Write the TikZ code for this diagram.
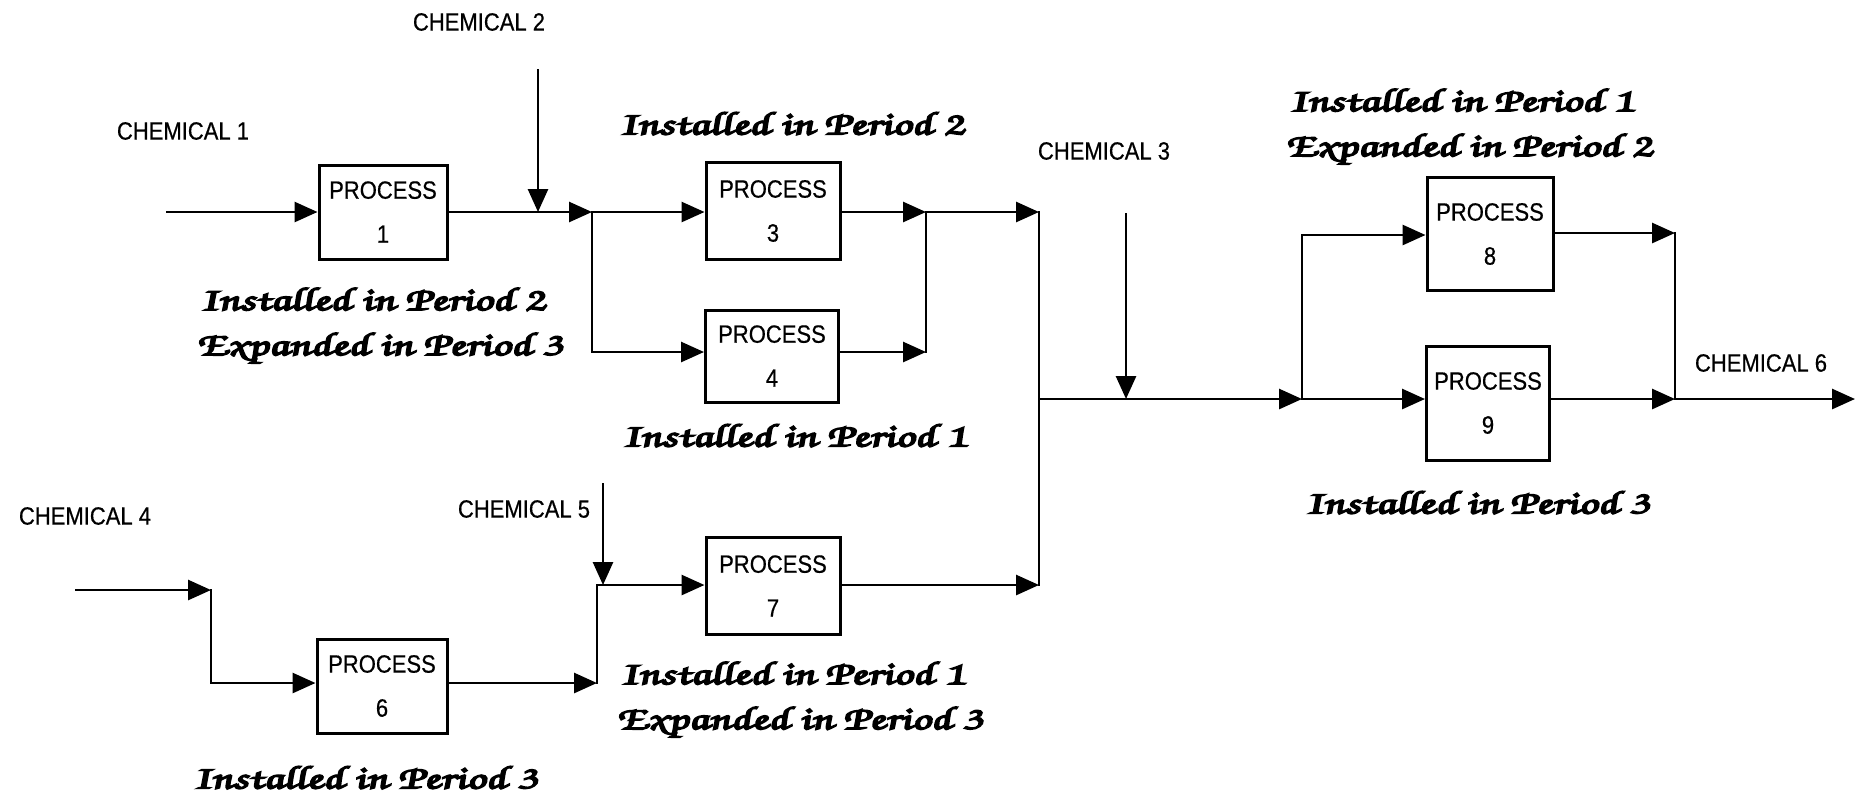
\documentclass[tikz,border=0pt]{standalone}
\usepackage[T1,TU]{fontenc}
\usepackage{fontspec}
\usepackage{graphicx}
\newfontfamily\chemfont{Liberation Sans}[FakeStretch=0.88,FakeBold=0.5]
\usetikzlibrary{arrows.meta}
\newcommand\notefont{\fontencoding{T1}\fontfamily{pzc}\fontseries{mb}\fontshape{it}\fontsize{16.5pt}{22.5pt}\selectfont}
\newcommand\embold[1]{\special{pdf:literal direct 2 Tr 0.7 w}#1\special{pdf:literal direct 0 Tr}}
\newcommand\noteline[1]{\scalebox{1.45}[1]{\embold{#1}}}
\tikzset{
  procbox/.style={draw, line width=1.5pt, inner sep=0pt, align=center,
    font=\chemfont\fontsize{12.5pt}{22pt}\selectfont},
  wire/.style={line width=1.4pt, line cap=rect},
  flow/.style={line width=1.4pt, -{Triangle[length=11.5pt,width=10pt]}},
  chemlab/.style={font=\chemfont\fontsize{12.5pt}{15pt}\selectfont, inner sep=0pt},
  notelab/.style={font=\notefont, align=center, inner sep=0pt, xslant=-0.18}
}
\begin{document}
\begin{tikzpicture}[x=0.5pt,y=-0.5pt]
\useasboundingbox (0,0) rectangle (1855,794);
% boxes
\node[procbox, minimum width=64pt, minimum height=47pt] (p1) at (383,212) {PROCESS\\1};
\node[procbox, minimum width=67pt, minimum height=48.5pt] (p3) at (773,211) {PROCESS\\3};
\node[procbox, minimum width=66.5pt, minimum height=46pt] (p4) at (772,356) {PROCESS\\4};
\node[procbox, minimum width=65pt, minimum height=47pt] (p6) at (382,686) {PROCESS\\6};
\node[procbox, minimum width=67pt, minimum height=48.5pt] (p7) at (773,586) {PROCESS\\7};
\node[procbox, minimum width=63pt, minimum height=56.5pt] (p8) at (1490,234) {PROCESS\\8};
\node[procbox, minimum width=61.5pt, minimum height=57pt] (p9) at (1488,403) {PROCESS\\9};
% chemical labels
\node[chemlab] (ch1) at (183,131) {CHEMICAL 1};
\node[chemlab] (ch2) at (479,22) {CHEMICAL 2};
\node[chemlab] (ch3) at (1104,151) {CHEMICAL 3};
\node[chemlab] (ch4) at (85,516) {CHEMICAL 4};
\node[chemlab] (ch5) at (524,509) {CHEMICAL 5};
\node[chemlab] (ch6) at (1761,363) {CHEMICAL 6};
% notes
\node[notelab] (n1) at (376,326) {\noteline{Installed in Period 2}\\\noteline{Expanded in Period 3}};
\node[notelab] (n3) at (790,123) {\noteline{Installed in Period 2}};
\node[notelab] (n4) at (793,435) {\noteline{Installed in Period 1}};
\node[notelab] (n7) at (796,700) {\noteline{Installed in Period 1}\\\noteline{Expanded in Period 3}};
\node[notelab] (n8) at (1465,127) {\noteline{Installed in Period 1}\\\noteline{Expanded in Period 2}};
\node[notelab] (n9) at (1476,502) {\noteline{Installed in Period 3}};
\node[notelab] (n6) at (364,777) {\noteline{Installed in Period 3}};
% junction coordinates
\coordinate (in1) at (166,212);
\coordinate (j1) at (592,212);
\coordinate (j1b) at (592,352);
\coordinate (c2s) at (538,69);
\coordinate (c2e) at (538,212);
\coordinate (j3) at (926,212);
\coordinate (j4) at (926,352);
\coordinate (bt) at (1039,212);
\coordinate (bm) at (1039,399);
\coordinate (bb) at (1039,585);
\coordinate (c3s) at (1126,213);
\coordinate (c3e) at (1126,399);
\coordinate (j5) at (1302,399);
\coordinate (j5t) at (1302,235);
\coordinate (j8) at (1675,233);
\coordinate (j9) at (1675,399);
\coordinate (out) at (1855,399);
\coordinate (in4) at (75,590);
\coordinate (j6a) at (211,590);
\coordinate (j6b) at (211,683);
\coordinate (j7) at (597,683);
\coordinate (j7t) at (597,585);
\coordinate (c5s) at (603,483);
\coordinate (c5e) at (603,585);
% upper branch
\draw[flow] (in1) -- (in1 -| p1.west);
\draw[flow] (p1.east |- j1) -- (j1);
\draw[flow] (c2s) -- (c2e);
\draw[wire] (j1) -- (j1b);
\draw[flow] (j1) -- (j1 -| p3.west);
\draw[flow] (j1b) -- (j1b -| p4.west);
\draw[flow] (p3.east |- j3) -- (j3);
\draw[flow] (p4.east |- j4) -- (j4);
\draw[wire] (j3) -- (j4);
\draw[flow] (j3) -- (bt);
\draw[wire] (bt) -- (bb);
\draw[flow] (p7.east |- bb) -- (bb);
% right part
\draw[flow] (bm) -- (j5);
\draw[flow] (c3s) -- (c3e);
\draw[wire] (j5) -- (j5t);
\draw[flow] (j5t) -- (j5t -| p8.west);
\draw[flow] (j5) -- (j5 -| p9.west);
\draw[flow] (p8.east |- j8) -- (j8);
\draw[flow] (p9.east |- j9) -- (j9);
\draw[wire] (j8) -- (j9);
\draw[flow] (j9) -- (out);
% lower branch
\draw[flow] (in4) -- (j6a);
\draw[wire] (j6a) -- (j6b);
\draw[flow] (j6b) -- (j6b -| p6.west);
\draw[flow] (p6.east |- j7) -- (j7);
\draw[wire] (j7) -- (j7t);
\draw[flow] (c5s) -- (c5e);
\draw[flow] (j7t) -- (j7t -| p7.west);
\end{tikzpicture}
\end{document}
